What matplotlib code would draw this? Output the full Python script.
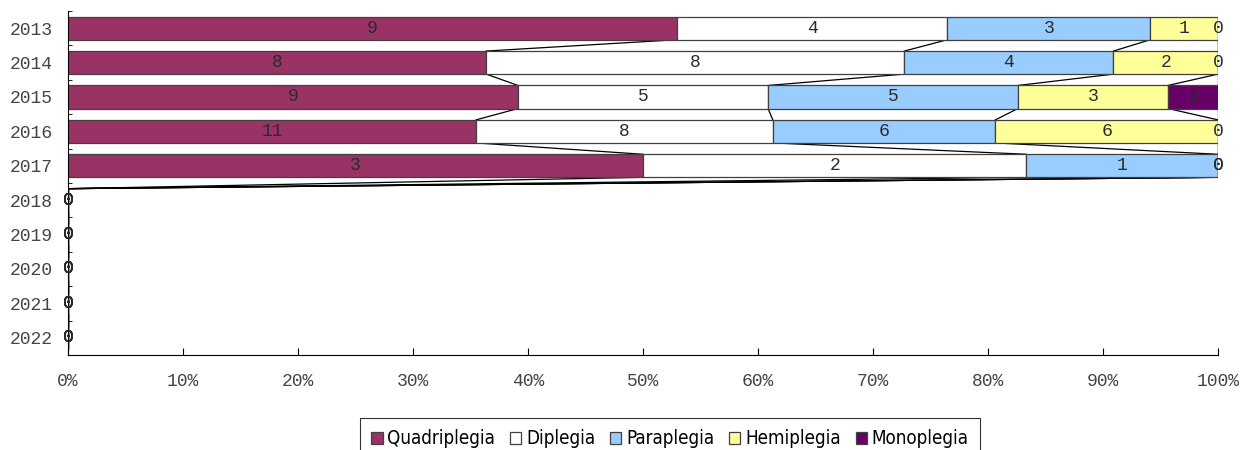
import matplotlib
matplotlib.use('Agg')
import matplotlib.pyplot as plt
import numpy as np
from matplotlib.ticker import FuncFormatter

years = ['2013', '2014', '2015', '2016', '2017', '2018', '2019', '2020', '2021', '2022']
series = ['Quadriplegia', 'Diplegia', 'Paraplegia', 'Hemiplegia', 'Monoplegia']
quadriplegia = [9, 8, 9, 11, 3, 0, 0, 0, 0, 0]
diplegia = [4, 8, 5, 8, 2, 0, 0, 0, 0, 0]
paraplegia = [3, 4, 5, 6, 1, 0, 0, 0, 0, 0]
hemiplegia = [1, 2, 3, 6, 0, 0, 0, 0, 0, 0]
monoplegia = [0, 0, 1, 0, 0, 0, 0, 0, 0, 0]
colours = ['#993366', '#ffffff', '#99ccff', '#ffff99', '#660066']

counts = np.array([quadriplegia, diplegia, paraplegia, hemiplegia, monoplegia], dtype=float)
totals = counts.sum(axis=0)
pct = np.divide(counts, totals, out=np.zeros_like(counts), where=totals > 0) * 100
cum = np.cumsum(pct, axis=0)
left = cum - pct

mono = 'Liberation Mono'
fsize = 13
fig = plt.figure(figsize=(12.55, 4.5), dpi=100)
ax = fig.add_axes([0.0542, 0.2111, 0.9163, 0.7645])

y = np.arange(len(years))
bar_h = 0.67
for i, name in enumerate(series):
    ax.barh(y, pct[i], left=left[i], height=bar_h, color=colours[i],
            edgecolor='#404040', linewidth=0.9, label=name, zorder=2)
    for j in range(len(years)):
        ax.text(left[i][j] + pct[i][j] / 2, y[j], '%d' % counts[i][j],
                ha='center', va='center', fontsize=fsize, family=mono,
                color='#2a2a2a', zorder=4)

# series lines between neighbouring bars
for i in range(len(series)):
    for j in range(len(years) - 1):
        ax.plot([cum[i][j], cum[i][j + 1]], [y[j] + bar_h / 2, y[j + 1] - bar_h / 2],
                color='black', linewidth=0.9, zorder=1)

ax.set_xlim(0, 100)
ax.set_ylim(len(years) - 0.5, -0.5)
ax.set_yticks(y)
ax.set_yticklabels(years, family=mono, fontsize=fsize, color='#444444')
ax.set_yticks(np.arange(len(years) + 1) - 0.5, minor=True)
ax.tick_params(axis='y', which='major', length=0, pad=11)
ax.tick_params(axis='y', which='minor', direction='in', length=3)
ax.set_xticks(np.arange(0, 101, 10))
ax.xaxis.set_major_formatter(FuncFormatter(lambda v, p: '%d%%' % v))
ax.tick_params(axis='x', direction='in', length=5, pad=13)
for lab in ax.get_xticklabels():
    lab.set_family(mono)
    lab.set_fontsize(fsize)
    lab.set_color('#444444')
ax.spines['top'].set_visible(False)
ax.spines['right'].set_visible(False)

leg = fig.legend(loc='upper center', bbox_to_anchor=(670 / 1255, 1 - 418 / 450), ncol=5,
                 frameon=True, fancybox=False, edgecolor='black', handlelength=0.6,
                 handleheight=0.6, handletextpad=0.25, columnspacing=0.8,
                 borderpad=0.6, borderaxespad=0,
                 prop={'family': 'DejaVu Sans', 'stretch': 'condensed', 'size': 13.5})
leg.get_frame().set_linewidth(0.8)

fig.savefig('out.png', dpi=100)
